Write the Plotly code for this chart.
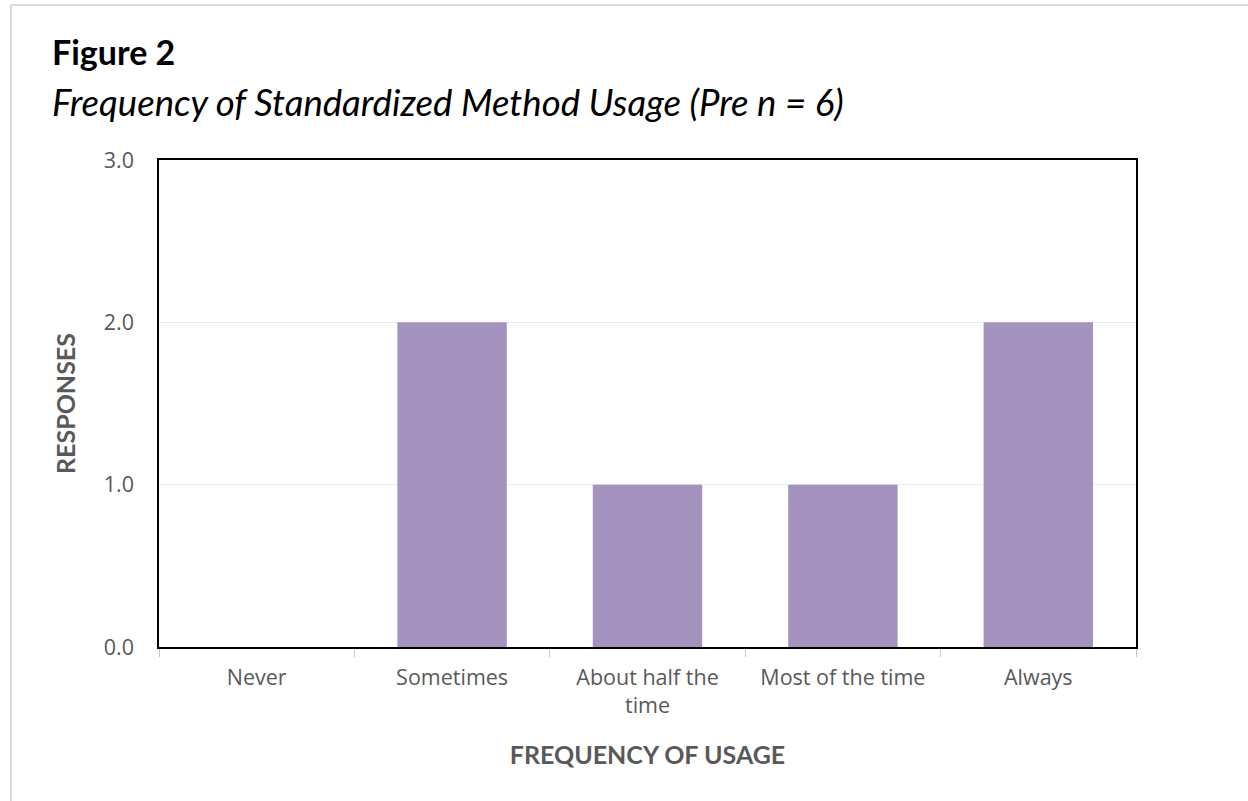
import plotly.graph_objects as go

categories = ["Never", "Sometimes", "About half the<br>time", "Most of the time", "Always"]
responses = [0, 2, 1, 1, 2]
y_ticks = [0, 1, 2, 3]
y_tick_labels = ["0.0", "1.0", "2.0", "3.0"]

W, H = 1248, 801
L, R, T, B = 159, 112, 160, 154
pw = W - L - R
ph = H - T - B

fig = go.Figure()
fig.add_trace(go.Bar(x=categories, y=responses, marker_color="#A593BF",
                     marker_line_width=0))

gray = "#595959"
fig.update_layout(
    width=W, height=H,
    margin=dict(l=L, r=R, t=T, b=B, pad=0),
    paper_bgcolor="white", plot_bgcolor="white",
    bargap=0.44,
    showlegend=False,
    xaxis=dict(
        showline=True, linecolor="black", linewidth=1.5, mirror=True,
        ticks="outside", tickson="boundaries", tickcolor="#c8c8c8", ticklen=8,
        tickfont=dict(family="Open Sans", size=21.5, color=gray),
        ticklabelstandoff=10,
        title=dict(text="<b>FREQUENCY OF USAGE</b>",
                   font=dict(family="Lato", size=25, color=gray), standoff=29),
        showgrid=False,
    ),
    yaxis=dict(
        range=[0, 3], tickvals=y_ticks, ticktext=y_tick_labels,
        showline=True, linecolor="black", linewidth=1.5, mirror=True,
        showgrid=True, gridcolor="#ebebeb", gridwidth=1,
        tickfont=dict(family="Open Sans", size=21.5, color=gray),
        ticks="", ticklabelstandoff=19,
        title=dict(text="<b>RESPONSES</b>",
                   font=dict(family="Lato", size=25, color=gray), standoff=21),
        zeroline=False,
    ),
)

# title texts
fig.add_annotation(text="<b>Figure 2</b>", xref="paper", yref="paper",
                   x=(50 - L) / pw, y=1 + (T - 51) / ph, xanchor="left", yanchor="middle",
                   showarrow=False, font=dict(family="Lato", size=34, color="black"))
fig.add_annotation(text="<i>Frequency of Standardized Method Usage (Pre n = 6)</i>",
                   xref="paper", yref="paper",
                   x=(50 - L) / pw, y=1 + (T - 102) / ph, xanchor="left", yanchor="middle",
                   showarrow=False, font=dict(family="Lato", size=36.6, color="black"))

# page border
bx = (11 - L) / pw
by = 1 + (T - 5) / ph
fig.add_shape(type="line", xref="paper", yref="paper", x0=bx, x1=bx, y0=by, y1=-B / ph - 0.01,
              line=dict(color="#d9d9d9", width=2))
fig.add_shape(type="line", xref="paper", yref="paper", x0=bx, x1=1 + R / pw + 0.01, y0=by, y1=by,
              line=dict(color="#d9d9d9", width=2))

fig.write_html("out.html", config={"displayModeBar": False},
               post_script="document.body.style.margin='0';document.body.style.overflow='hidden';")
